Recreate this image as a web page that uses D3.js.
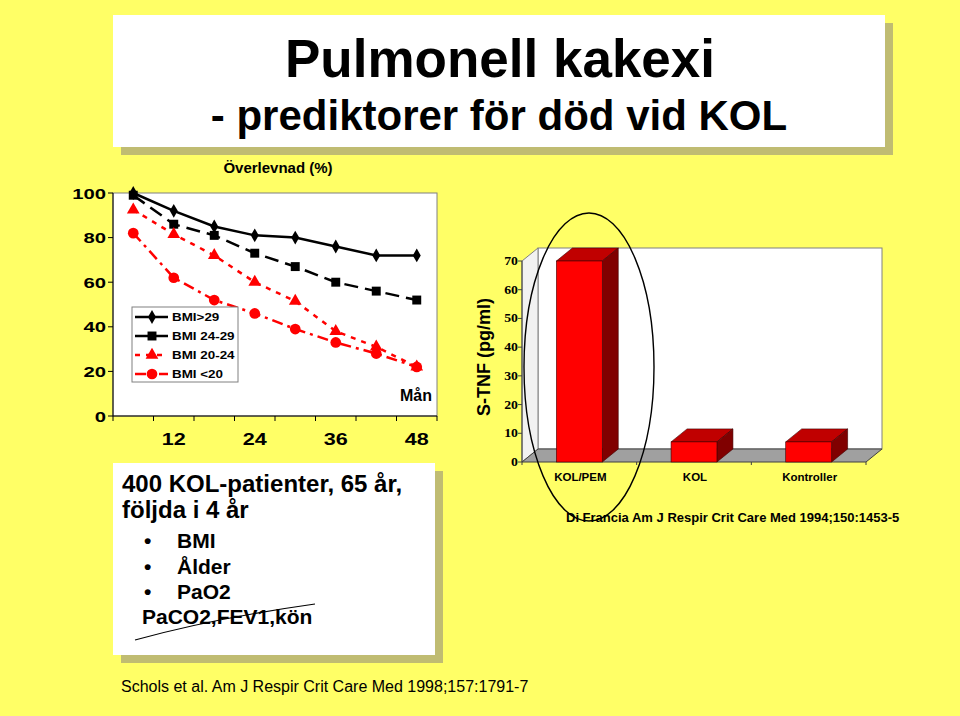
<!DOCTYPE html>
<html><head><meta charset="utf-8">
<script src="https://cdn.jsdelivr.net/npm/d3@7"></script>
<style>
html,body{margin:0;padding:0;background:#ffff66;}
svg{display:block;font-family:Arial,"Liberation Sans",sans-serif;}
</style></head>
<body><svg id="c" width="960" height="716"></svg>
<script>
// ---------- data ----------
const months = [6, 12, 18, 24, 30, 36, 42, 48];
const monthLabels = [12, 24, 36, 48];
const survivalTicks = [0, 20, 40, 60, 80, 100];
const bmiOver29 = [100, 92, 85, 81, 80, 76, 72, 72];
const bmi24to29 = [99, 86, 81, 73, 67, 60, 56, 52];
const bmi20to24 = [92.5, 81.5, 72, 60, 51.5, 38, 31, 22];
const bmiUnder20 = [82, 62, 52, 46, 39, 33, 28, 22];
const seriesNames = ["BMI>29", "BMI 24-29", "BMI 20-24", "BMI <20"];

const tnfCategories = ["KOL/PEM", "KOL", "Kontroller"];
const tnfValues = [70, 7, 7];
const tnfTicks = [0, 10, 20, 30, 40, 50, 60, 70];

// ---------- setup ----------
const svg = d3.select("#c");
svg.append("rect").attr("width", 960).attr("height", 716).attr("fill", "#ffff66");

function stext(g, x, y, txt, sx, anchor, size, weight, fill, family) {
  return g.append("text")
    .attr("transform", `translate(${x},${y}) scale(${sx},1)`)
    .attr("text-anchor", anchor)
    .attr("font-size", size)
    .attr("font-weight", weight || "bold")
    .attr("fill", fill || "#000")
    .attr("font-family", family || null)
    .text(txt);
}

// ---------- title box ----------
svg.append("rect").attr("x", 121).attr("y", 23).attr("width", 772).attr("height", 132).attr("fill", "#c0bc72");
svg.append("rect").attr("x", 113).attr("y", 15).attr("width", 772).attr("height", 132).attr("fill", "#fff");
svg.append("text").attr("x", 500).attr("y", 77).attr("text-anchor", "middle")
  .attr("font-size", 53).attr("font-weight", "bold").text("Pulmonell kakexi");
svg.append("text").attr("x", 499).attr("y", 130).attr("text-anchor", "middle")
  .attr("font-size", 42).attr("font-weight", "bold").text("- prediktorer för död vid KOL");

// ---------- left survival chart ----------
const L = svg.append("g");
const x = d3.scaleBand().domain(months).range([113, 437]);
const y = d3.scaleLinear().domain([0, 100]).range([416, 193]);

L.append("text").attr("x", 278).attr("y", 173).attr("text-anchor", "middle")
  .attr("font-size", 15).attr("font-weight", "bold").text("Överlevnad (%)");

L.append("rect").attr("x", x.range()[0]).attr("y", y(100))
  .attr("width", x.range()[1] - x.range()[0]).attr("height", y(0) - y(100))
  .attr("fill", "#fff").attr("stroke", "#808080").attr("stroke-width", 1);

// y axis
L.append("line").attr("x1", 113).attr("x2", 113).attr("y1", y(0)).attr("y2", y(100)).attr("stroke", "#000").attr("stroke-width", 1);
survivalTicks.forEach(t => {
  L.append("line").attr("x1", 108).attr("x2", 113).attr("y1", y(t)).attr("y2", y(t)).attr("stroke", "#000");
  stext(L, 106, y(t) + 5.5, t, 1.35, "end", 15);
});
// x axis
L.append("line").attr("x1", 113).attr("x2", 437).attr("y1", y(0)).attr("y2", y(0)).attr("stroke", "#000");
months.forEach(m => {
  L.append("line").attr("x1", x(m)).attr("x2", x(m)).attr("y1", y(0)).attr("y2", y(0) + 5).attr("stroke", "#000");
});
L.append("line").attr("x1", 437).attr("x2", 437).attr("y1", y(0)).attr("y2", y(0) + 5).attr("stroke", "#000");
monthLabels.forEach(m => {
  stext(L, x(m) + x.bandwidth() / 2, 445, m, 1.35, "middle", 16);
});
L.append("text").attr("x", 432).attr("y", 401).attr("text-anchor", "end")
  .attr("font-size", 16).attr("font-weight", "bold").text("Mån");

const series = [
  {name: seriesNames[0], vals: bmiOver29, color: "#000", dash: null, marker: "diamond"},
  {name: seriesNames[1], vals: bmi24to29, color: "#000", dash: "14,7", marker: "square"},
  {name: seriesNames[2], vals: bmi20to24, color: "#ff0000", dash: "5,6", marker: "triangle"},
  {name: seriesNames[3], vals: bmiUnder20, color: "#ff0000", dash: "11,5,3,5", marker: "circle"}
];
const symType = {diamond: d3.symbolDiamond, square: d3.symbolSquare, triangle: d3.symbolTriangle, circle: d3.symbolCircle};
const symSize = {diamond: 55, square: 80, triangle: 70, circle: 90};
const line = d3.line().x((d, i) => x(months[i]) + x.bandwidth() / 2).y(d => y(d));

series.forEach(s => {
  L.append("path").attr("d", line(s.vals)).attr("fill", "none")
    .attr("stroke", s.color).attr("stroke-width", 2.5).attr("stroke-dasharray", s.dash);
});
series.forEach(s => {
  s.vals.forEach((v, i) => {
    L.append("path").attr("d", d3.symbol(symType[s.marker], symSize[s.marker])())
      .attr("transform", `translate(${x(months[i]) + x.bandwidth() / 2},${y(v)})`)
      .attr("fill", s.color);
  });
});

// legend
const lg = L.append("g");
lg.append("rect").attr("x", 132).attr("y", 307).attr("width", 106).attr("height", 75)
  .attr("fill", "#fff").attr("stroke", "#808080").attr("stroke-width", 1);
series.forEach((s, i) => {
  const ly = 317 + i * 19;
  lg.append("line").attr("x1", 135).attr("x2", 168).attr("y1", ly).attr("y2", ly)
    .attr("stroke", s.color).attr("stroke-width", 2.5).attr("stroke-dasharray", s.dash);
  lg.append("path").attr("d", d3.symbol(symType[s.marker], symSize[s.marker])())
    .attr("transform", `translate(152,${ly})`).attr("fill", s.color);
  stext(lg, 172, ly + 4, s.name, 1.22, "start", 11);
});

// ---------- text box ----------
const T = svg.append("g");
T.append("rect").attr("x", 121).attr("y", 471).attr("width", 322).attr("height", 192).attr("fill", "#c0bc72");
T.append("rect").attr("x", 113).attr("y", 463).attr("width", 322).attr("height", 192).attr("fill", "#fff");
T.append("text").attr("x", 122).attr("y", 492).attr("font-size", 24).attr("font-weight", "bold").text("400 KOL-patienter, 65 år,");
T.append("text").attr("x", 122).attr("y", 518).attr("font-size", 24).attr("font-weight", "bold").text("följda i 4 år");
[["BMI", 548], ["Ålder", 574], ["PaO2", 599]].forEach(([t, yy]) => {
  T.append("text").attr("x", 144).attr("y", yy).attr("font-size", 21).attr("font-weight", "bold").text("•");
  T.append("text").attr("x", 177).attr("y", yy).attr("font-size", 21).attr("font-weight", "bold").text(t);
});
T.append("text").attr("x", 142).attr("y", 624).attr("font-size", 21).attr("font-weight", "bold").text("PaCO2,FEV1,kön");
T.append("path").attr("d", "M135,640 Q215,618 315,604").attr("fill", "none").attr("stroke", "#000").attr("stroke-width", 1.2);

// ---------- right 3D bar chart ----------
const R = svg.append("g");
const dx = 16, dy = -13;
const bx = d3.scaleBand().domain(tnfCategories).range([522, 866]).paddingInner(0.6).paddingOuter(0.3);
const by = d3.scaleLinear().domain([0, 70]).range([462, 261]);
const x0 = 522, x1 = 866, yTop = by(70), yBot = by(0);

// back wall
R.append("rect").attr("x", x0 + dx).attr("y", yTop + dy).attr("width", x1 - x0).attr("height", yBot - yTop)
  .attr("fill", "#fff").attr("stroke", "#808080").attr("stroke-width", 1);
// side wall
R.append("polygon").attr("points", [[x0, yTop], [x0 + dx, yTop + dy], [x0 + dx, yBot + dy], [x0, yBot]].join(" "))
  .attr("fill", "#f2f2f2").attr("stroke", "#808080").attr("stroke-width", 1);
// floor
R.append("polygon").attr("points", [[x0, yBot], [x1, yBot], [x1 + dx, yBot + dy], [x0 + dx, yBot + dy]].join(" "))
  .attr("fill", "#a0a0a0").attr("stroke", "#404040").attr("stroke-width", 1);
// category ticks
[x0, x0 + (x1 - x0) / 3, x0 + 2 * (x1 - x0) / 3, x1].forEach(tx => {
  R.append("line").attr("x1", tx).attr("x2", tx).attr("y1", yBot).attr("y2", yBot + 3).attr("stroke", "#404040");
});
// y axis
R.append("line").attr("x1", x0).attr("x2", x0).attr("y1", yTop).attr("y2", yBot).attr("stroke", "#404040");
tnfTicks.forEach(t => {
  R.append("line").attr("x1", x0 - 4).attr("x2", x0).attr("y1", by(t)).attr("y2", by(t)).attr("stroke", "#404040");
  stext(R, x0 - 4, by(t) + 4, t, 1.15, "end", 12, "bold", "#000", "'Liberation Serif','Times New Roman',serif");
});
// bars
tnfCategories.forEach((c, i) => {
  const bxL = bx(c), bw = bx.bandwidth(), top = by(tnfValues[i]);
  R.append("polygon").attr("points", [[bxL, top], [bxL + dx, top + dy], [bxL + bw + dx, top + dy], [bxL + bw, top]].join(" "))
    .attr("fill", "#c00000").attr("stroke", "#400000").attr("stroke-width", 0.6);
  R.append("polygon").attr("points", [[bxL + bw, top], [bxL + bw + dx, top + dy], [bxL + bw + dx, yBot + dy], [bxL + bw, yBot]].join(" "))
    .attr("fill", "#800000").attr("stroke", "#400000").attr("stroke-width", 0.6);
  R.append("rect").attr("x", bxL).attr("y", top).attr("width", bw).attr("height", yBot - top)
    .attr("fill", "#ff0000").attr("stroke", "#400000").attr("stroke-width", 0.6);
  R.append("text").attr("x", bxL + bw / 2 + 1).attr("y", 481).attr("text-anchor", "middle")
    .attr("font-size", 11.5).attr("font-weight", "bold").text(c);
});
R.append("text").attr("transform", "translate(490,357) rotate(-90)").attr("text-anchor", "middle")
  .attr("font-size", 18).attr("font-weight", "bold").text("S-TNF (pg/ml)");

// ellipse
R.append("ellipse").attr("cx", 589).attr("cy", 367).attr("rx", 65).attr("ry", 154)
  .attr("fill", "none").attr("stroke", "#000").attr("stroke-width", 1.4);

// ---------- citations ----------
svg.append("text").attr("x", 566).attr("y", 522).attr("font-size", 13).attr("font-weight", "bold")
  .text("Di Francia Am J Respir Crit Care Med 1994;150:1453-5");
svg.append("text").attr("x", 121).attr("y", 692).attr("font-size", 16)
  .text("Schols et al. Am J Respir Crit Care Med 1998;157:1791-7");
</script></body></html>
